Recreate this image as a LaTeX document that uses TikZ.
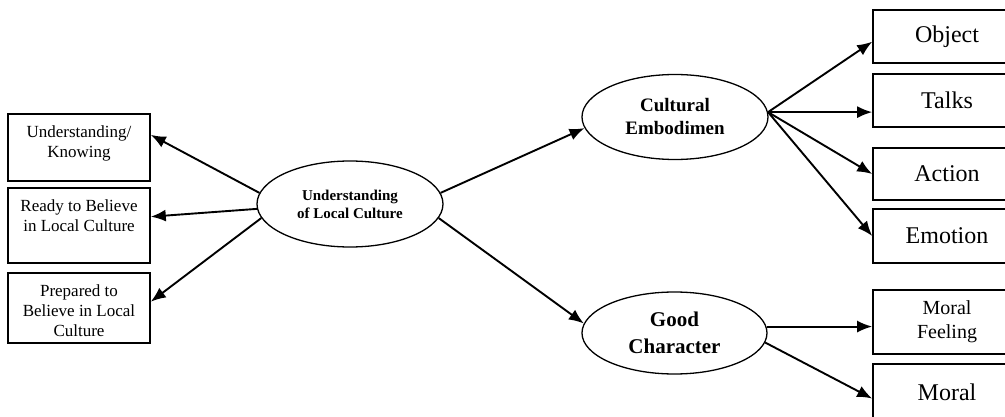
\documentclass[tikz,border=0pt]{standalone}
\usepackage{fontspec}
\setmainfont{Liberation Serif}
\usetikzlibrary{shapes.geometric, arrows.meta}

\tikzset{
	leftbox/.style={draw, line width=1.6pt, minimum width=142pt},
	lefttext/.style={anchor=north, align=center, inner sep=0pt, yshift=-12pt,
		font=\fontsize{17}{20}\selectfont},
	rightbox/.style={draw, line width=1.6pt, minimum width=148pt, align=center,
		font=\fontsize{24}{28}\selectfont},
	oval/.style={draw, ellipse, line width=1.3pt, inner sep=0pt, align=center},
	link/.style={-{Latex[length=15pt, width=12pt]}, line width=1.9pt}
}

\begin{document}
\begin{tikzpicture}[x=1pt, y=-1pt]

		\clip (0,0) rectangle (1005,417);

		% Left boxes
		\node[leftbox, minimum height=67pt, label={[lefttext]north:Understanding/\\Knowing}] (know) at (79,147.5) {};
		\node[leftbox, minimum height=75pt, label={[lefttext]north:Ready to Believe\\in Local Culture}] (ready) at (79,225.5) {};
		\node[leftbox, minimum height=70pt, label={[lefttext]north:Prepared to\\Believe in Local\\Culture}] (prep) at (79,308) {};

		% Ellipses
		\node[oval, minimum width=186pt, minimum height=86pt, font=\bfseries\fontsize{15}{18}\selectfont] (ulc) at (350,204) {Understanding\\of Local Culture};
		\node[oval, minimum width=186pt, minimum height=85pt, font=\bfseries\fontsize{19}{23}\selectfont] (cult) at (675,117) {Cultural\\Embodimen};
		\node[oval, minimum width=185pt, minimum height=82pt, font=\bfseries\fontsize{21}{27}\selectfont] (good) at (674.5,333) {Good\\Character};

		% Right boxes
		\node[rightbox, minimum height=53pt] (object) at (947,36.5) {Object};
		\node[rightbox, minimum height=53pt] (talks) at (947,100.5) {Talks};
		\node[rightbox, minimum height=52pt] (action) at (947,174) {Action};
		\node[rightbox, minimum height=54pt] (emotion) at (947,236) {Emotion};
		\node[rightbox, minimum height=64pt, font=\fontsize{20}{24}\selectfont] (feeling) at (947,322) {Moral\\Feeling};
		\node[rightbox, minimum height=56pt] (moral) at (947,392) {Moral};

		% Arrows to the left
		\draw[link] (ulc.173) -- (know.10);
		\draw[link] (ulc.183) -- (ready.7);
		\draw[link] (ulc.189) -- (prep.5);

		% Arrows to the middle
		\draw[link] (ulc.7) -- (cult.187);
		\draw[link] (ulc.351) -- (good.174);

		% Arrows to the right
		\draw[link] (cult.3) -- (object.184);
		\draw[link] (cult.3) -- (talks.west |- cult.3);
		\draw[link] (cult.3) -- (action.west);
		\draw[link] (cult.3) -- (emotion.west);
		\draw[link] (good.4) -- (feeling.west |- good.4);
		\draw[link] (good.354) -- (moral.185);

\end{tikzpicture}
\end{document}
